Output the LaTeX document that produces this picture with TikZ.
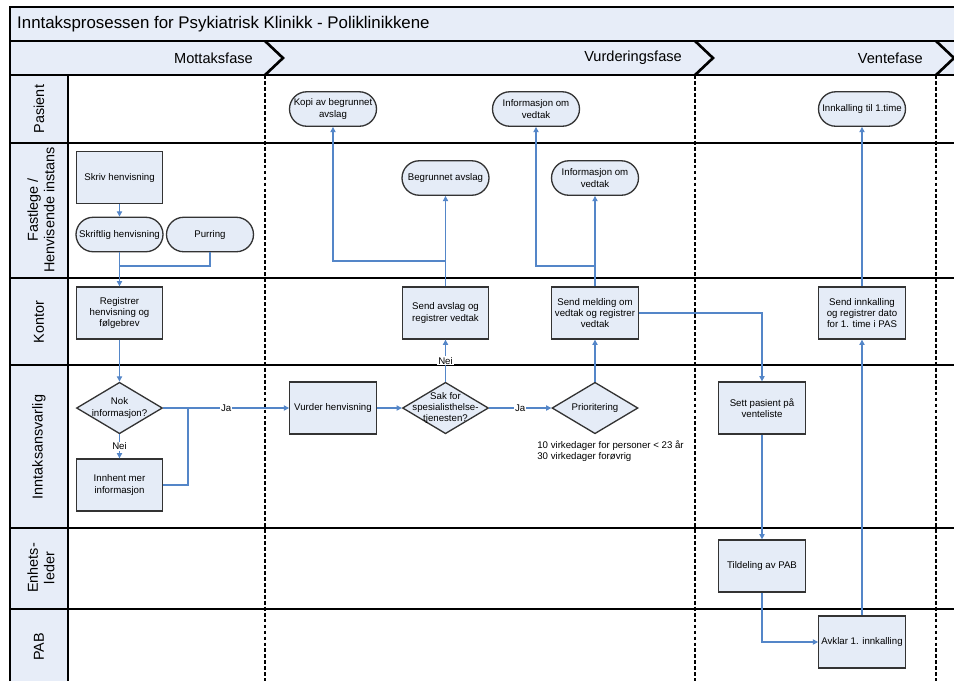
\documentclass[tikz,border=0pt]{standalone}
\usepackage{fontspec}
\setmainfont{Liberation Sans}
\usetikzlibrary{shapes.geometric,arrows.meta}
\definecolor{bandfill}{RGB}{231,237,248}
\definecolor{boxfill}{RGB}{229,236,247}
\definecolor{linkblue}{RGB}{84,134,200}
\tikzset{
  boxtext/.style={font=\fontsize{5.5}{6.4}\selectfont},
  process/.style={boxtext, draw=black!80, fill=boxfill, line width=0.75pt, minimum width=1.73cm, minimum height=1.04cm, align=center, inner sep=1pt},
  terminal/.style={process, rounded corners=0.345cm, minimum width=1.74cm, minimum height=0.69cm},
  decision/.style={diamond, draw=black!80, fill=boxfill, line width=0.75pt, minimum width=1.72cm, minimum height=1.03cm, inner sep=0pt},
  linkline/.style={draw=linkblue, line width=0.6pt},
  link/.style={linkline, -{Triangle[length=3pt,width=3pt]}},
  lbl/.style={boxtext, fill=white, inner sep=0.6pt},
  lanetext/.style={font=\fontsize{8.2}{9.5}\selectfont, align=center, rotate=90},
  phaseline/.style={line width=1.5pt},
  phasedots/.style={line width=1.6pt, dash pattern=on 2.2pt off 1.2pt}
}
\begin{document}
\begin{tikzpicture}[x=0.02cm, y=-0.02cm]
\useasboundingbox (0,0) rectangle (954,681);
% bands and lanes
\fill[bandfill] (10,7) rectangle (954,75);
\fill[bandfill] (10,75) rectangle (68,681);
\draw[line width=0.75pt] (10,681) -- (10,7) -- (954,7);
\draw[line width=0.75pt] (10,41) -- (954,41);
\draw[line width=0.75pt] (10,75) -- (954,75);
\draw[line width=0.75pt] (68,75) -- (68,681);
\draw[line width=0.75pt] (10,143) -- (954,143);
\draw[line width=0.75pt] (10,278) -- (954,278);
\draw[line width=0.75pt] (10,365) -- (954,365);
\draw[line width=0.75pt] (10,528) -- (954,528);
\draw[line width=0.75pt] (10,609) -- (954,609);
\node[anchor=west, font=\fontsize{9.6}{11.6}\selectfont] (title) at (11,24) {Inntaksprosessen for Psykiatrisk Klinikk - Poliklinikkene};
\node[anchor=east, font=\fontsize{8.3}{9.5}\selectfont] (mottak) at (259,58) {Mottaksfase};
\node[anchor=east, font=\fontsize{8.3}{9.5}\selectfont] (vurdering) at (688,58) {Vurderingsfase};
\node[anchor=east, font=\fontsize{8.3}{9.5}\selectfont] (vente) at (929,58) {Ventefase};
\draw[phaseline] (265,41) -- (283,58) -- (265,75);
\draw[phaseline] (695,41) -- (713,58) -- (695,75);
\draw[phaseline] (936,41) -- (954,58) -- (936,75);
\draw[phasedots] (265,75) -- (265,681);
\draw[phasedots] (695,75) -- (695,681);
\draw[phasedots] (936,75) -- (936,681);
\node[lanetext] (pasient) at (39,109) {Pasient};
\node[lanetext] (fastlege) at (41,210) {Fastlege /\\Henvisende instans};
\node[lanetext] (kontor) at (39,322) {Kontor};
\node[lanetext] (inntak) at (39,447) {Inntaksansvarlig};
\node[lanetext] (enhet) at (41,568) {Enhets-\\leder};
\node[lanetext] (pab) at (39,647) {PAB};
% steps
\node[process] (skriv) at (119.5,177.5) {Skriv henvisning};
\node[terminal] (skriftlig) at (119.5,234.5) {Skriftlig henvisning};
\node[terminal] (purring) at (210,234.5) {Purring};
\node[process] (registrer) at (119.5,313) {Registrer\\henvisning og\\følgebrev};
\node[decision, label={[boxtext, align=center]center:Nok\\informasjon?}] (nok) at (119.5,408) {};
\node[process] (innhent) at (119.5,485) {Innhent mer\\informasjon};
\node[process] (vurder) at (333,408) {Vurder henvisning};
\node[decision, label={[boxtext, align=center]center:Sak for\\spesialisthelse-\\tjenesten?}] (sak) at (445.5,408) {};
\node[decision, label={[boxtext]center:Prioritering}] (prio) at (595,408) {};
\node[boxtext, anchor=west, align=left, inner sep=0pt] (frist) at (537,451) {10 virkedager for personer < 23 år\\30 virkedager forøvrig};
\node[process] (avslag) at (445.5,313) {Send avslag og\\registrer vedtak};
\node[process] (melding) at (595,313) {Send melding om\\vedtak og registrer\\vedtak};
\node[terminal] (kopi) at (333,109) {Kopi av begrunnet\\avslag};
\node[terminal] (begrunnet) at (445.5,178) {Begrunnet avslag};
\node[terminal] (infopas) at (536,109) {Informasjon om\\vedtak};
\node[terminal] (infofast) at (595,178) {Informasjon om\\vedtak};
\node[process] (venteliste) at (762,408) {Sett pasient på\\venteliste};
\node[process] (tildeling) at (762,566) {Tildeling av PAB};
\node[process] (avklar) at (862,642) {Avklar 1. innkalling};
\node[process] (innkalling) at (862,313) {Send innkalling\\og registrer dato\\for 1. time i PAS};
\node[terminal] (time) at (862,109) {Innkalling til 1.time};
\coordinate (join1) at (119.5,266);
\coordinate (join2) at (188,408);
\coordinate (split1) at (445.5,261);
\coordinate (split2) at (595,266);
% connectors
\draw[link] (skriv) -- (skriftlig);
\draw[link] (skriftlig) -- (registrer);
\draw[linkline] (purring) |- (join1);
\draw[link] (registrer) -- (nok);
\draw[link] (nok) -- node[lbl] {Nei} (innhent);
\draw[link] (nok) -- node[lbl] {Ja} (vurder);
\draw[linkline] (innhent) -| (join2);
\draw[link] (vurder) -- (sak);
\draw[link] (sak) -- node[lbl] {Nei} (avslag);
\draw[link] (sak) -- node[lbl] {Ja} (prio);
\draw[link] (prio) -- (melding);
\draw[link] (avslag) -- (begrunnet);
\draw[link] (split1) -| (kopi);
\draw[link] (melding) -- (infofast);
\draw[link] (split2) -| (infopas);
\draw[link] (melding) -| (venteliste);
\draw[link] (venteliste) -- (tildeling);
\draw[link] (tildeling) |- (avklar);
\draw[link] (avklar) -- (innkalling);
\draw[link] (innkalling) -- (time);
\end{tikzpicture}
\end{document}
